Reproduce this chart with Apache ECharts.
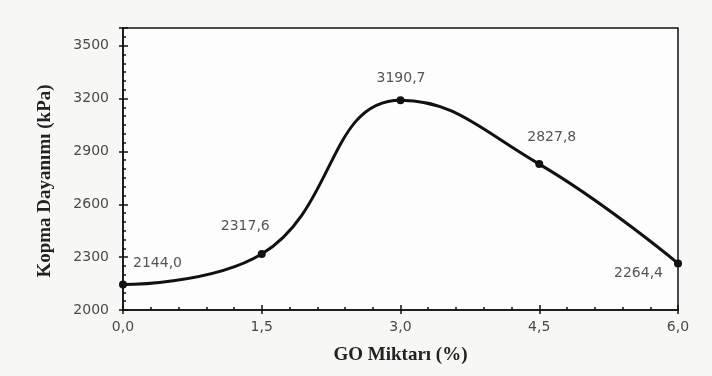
<!DOCTYPE html>
<html><head><meta charset="utf-8">
<script src="https://cdn.jsdelivr.net/npm/echarts@6/dist/echarts.min.js"></script>
<style>html,body{margin:0;padding:0;background:#f7f7f6}#c{width:712px;height:376px}</style>
</head><body><div id="c"></div>
<script>
const goAmount = [0.0, 1.5, 3.0, 4.5, 6.0];
const strength = [2144.0, 2317.6, 3190.7, 2827.8, 2264.4];
const xTitle = 'GO Miktarı (%)';
const yTitle = 'Kopma Dayanımı (kPa)';
// label offsets relative to each marker
const labelOffset = [[14, -24], [-37, -31], [-20, -25], [-8, -30], [-60, 7]];

const fmt = v => v.toFixed(1).replace('.', ',');
const chart = echarts.init(document.getElementById('c'));
const axisFont = {fontFamily: 'DejaVu Sans', fontSize: 14, color: '#4a4a4a'};
const pts = goAmount.map((x, i) => ({value: [x, strength[i]], label: {position: labelOffset[i]}}));
const baseX = {type: 'value', min: 0, max: 6, interval: 1.5, gridIndex: 0, position: 'bottom'};
const baseY = {type: 'value', min: 2000, max: 3600, interval: 300, gridIndex: 0, position: 'left'};
const titleFont = {fontFamily: 'Liberation Serif', fontWeight: 'bold', fontSize: 19, color: '#222'};
chart.setOption({
  backgroundColor: '#f7f7f6',
  grid: {left: 123, right: 34, top: 28, bottom: 66, show: true, backgroundColor: '#fdfdfd', borderColor: '#111', borderWidth: 1.5},
  xAxis: [
    Object.assign({}, baseX, {
      name: xTitle, nameLocation: 'middle', nameGap: 36, nameTextStyle: titleFont,
      axisLine: {lineStyle: {color: '#111', width: 1.5}},
      axisTick: {inside: true, length: 5, lineStyle: {color: '#111', width: 1.5}},
      minorTick: {show: true, splitNumber: 5, length: 3, lineStyle: {color: '#111', width: 1.5}},
      splitLine: {show: false},
      axisLabel: Object.assign({formatter: v => fmt(v), margin: 10}, axisFont)
    }),
    Object.assign({}, baseX, {
      axisLine: {show: false}, axisLabel: {show: false}, splitLine: {show: false},
      axisTick: {inside: false, length: 4, lineStyle: {color: '#111', width: 1.5}}
    })
  ],
  yAxis: [
    Object.assign({}, baseY, {
      name: yTitle, nameLocation: 'middle', nameGap: 68,
      nameTextStyle: Object.assign({padding: [0, 24, 0, 0]}, titleFont),
      axisLine: {lineStyle: {color: '#111', width: 1.5}},
      axisTick: {inside: true, length: 5, lineStyle: {color: '#111', width: 1.5}},
      minorTick: {show: true, splitNumber: 6, length: 3, lineStyle: {color: '#111', width: 1.5}},
      splitLine: {show: false},
      axisLabel: Object.assign({margin: 14, showMaxLabel: false, formatter: v => v >= 3600 ? '' : String(v)}, axisFont)
    }),
    Object.assign({}, baseY, {
      axisLine: {show: false}, axisLabel: {show: false}, splitLine: {show: false},
      axisTick: {inside: false, length: 4, lineStyle: {color: '#111', width: 1.5}}
    })
  ],
  series: [{
    type: 'line', smooth: 0.45, data: pts,
    symbol: 'circle', symbolSize: 8,
    lineStyle: {color: '#111', width: 3},
    itemStyle: {color: '#111'},
    label: {show: true, formatter: p => fmt(p.value[1]), fontFamily: 'DejaVu Sans', fontSize: 14, color: '#555'}
  }]
});
</script></body></html>
